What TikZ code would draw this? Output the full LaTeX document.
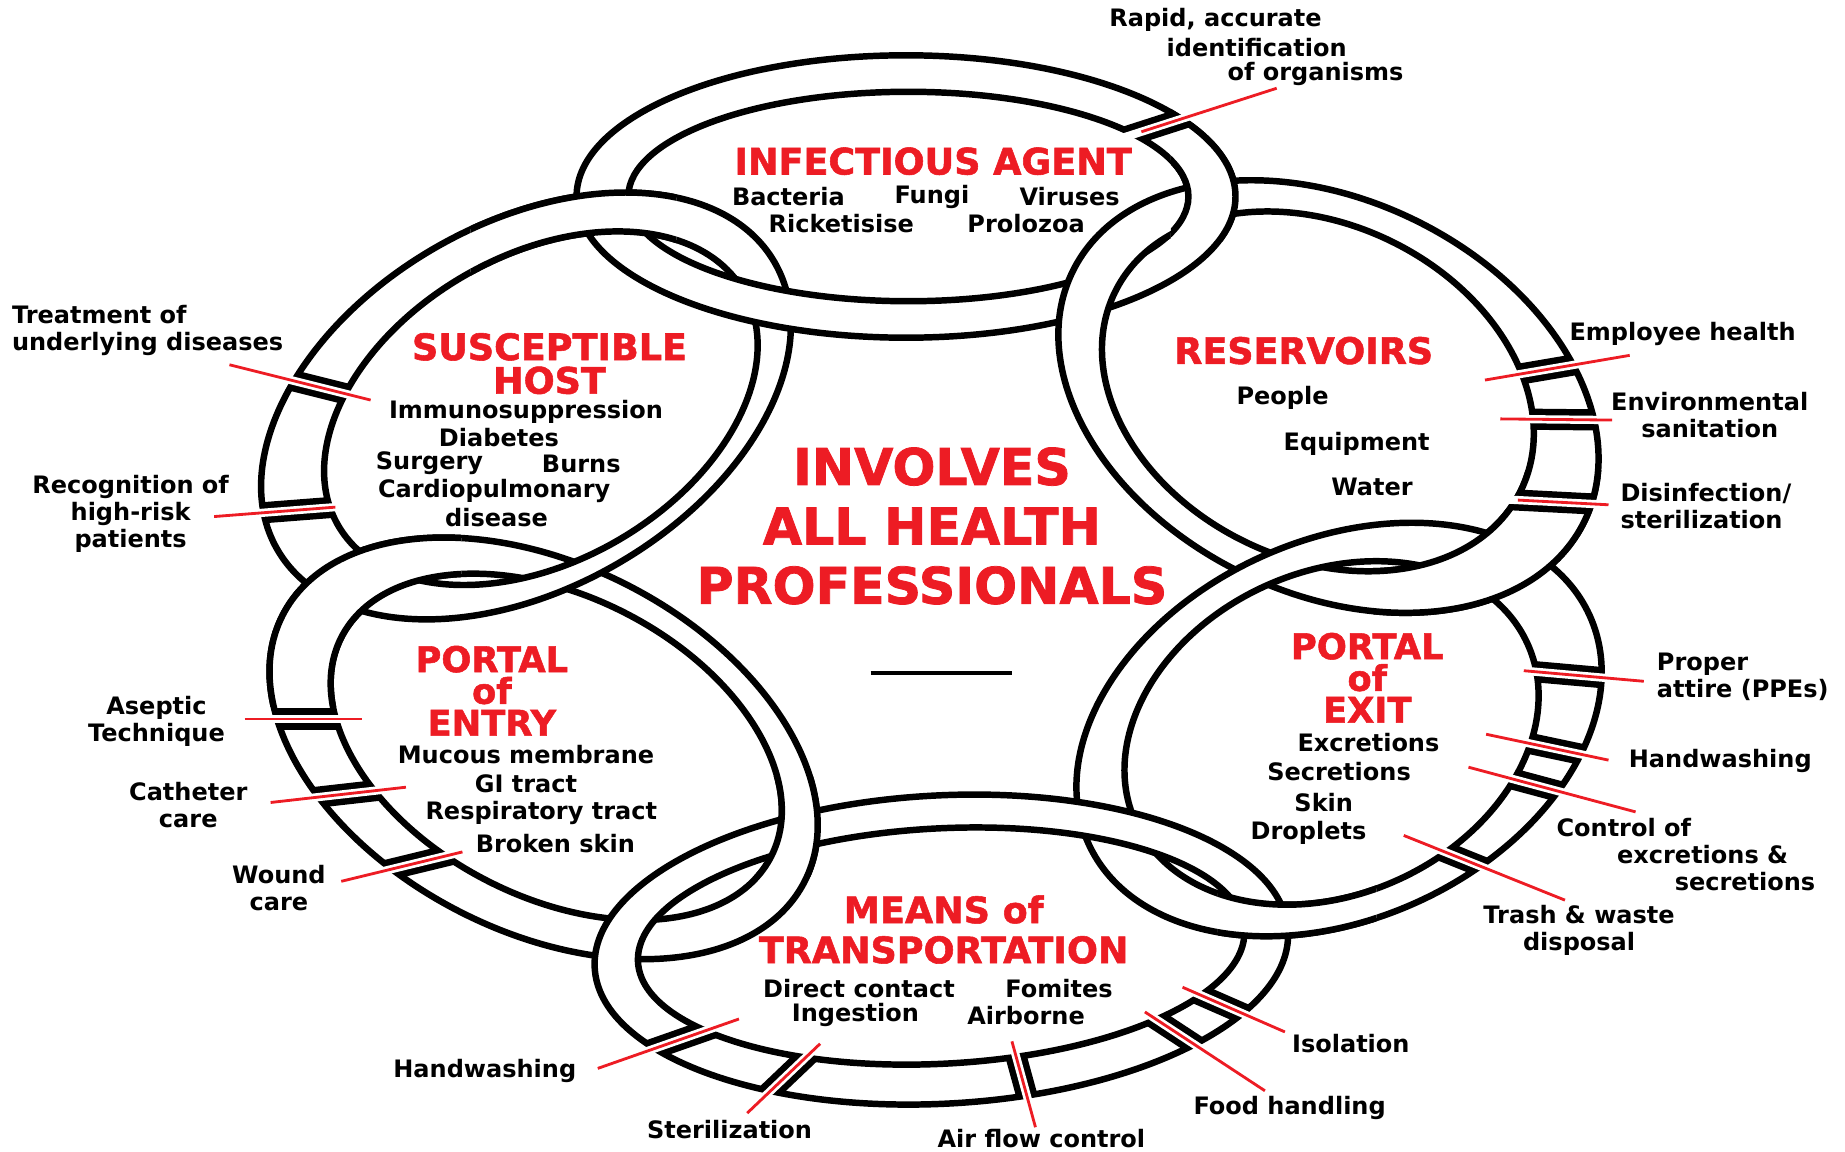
\documentclass[tikz,border=0pt]{standalone}
\usepackage{fontspec}
\setmainfont{DejaVu Sans}
\newfontfamily\headfont{DejaVu Sans}[BoldFeatures={FakeBold=1.5}]
\usetikzlibrary{positioning}
\definecolor{chainred}{RGB}{237,28,36}

% one chain link: outer ellipse, inner hole (a white band between them)
\newcommand\bandmargin{0}
\newcommand\ringband[6]{(0,0) ellipse [x radius=#1+\bandmargin, y radius=#2+\bandmargin] ({#3+#5-\bandmargin},#4) arc [start angle=360, end angle=0, x radius=#5-\bandmargin, y radius=#6-\bandmargin]}
\newcommand\bandIA{\ringband{280}{120}{2}{0}{238}{89}}
\newcommand\bandSH{\ringband{244}{155}{10}{8}{199}{130}}
\newcommand\bandRS{\ringband{242}{167}{-10}{0}{192}{142}}
\newcommand\bandPX{\ringband{234}{161}{-7}{0}{183}{137}}
\newcommand\bandMT{\ringband{295}{131}{0}{-3}{258}{100}}
\newcommand\bandEN{\ringband{249}{156}{9}{-6}{205}{128}}

% break in a link where a red line passes
\newcommand\linkcut[4]{%
  \begin{scope}[#1, even odd rule]\renewcommand\bandmargin{0}\clip #2;
    \draw[capline] (#3) -- (#4);\end{scope}
  \begin{scope}[#1, even odd rule]\renewcommand\bandmargin{3.8}\clip #2;
    \draw[gapline] (#3) -- (#4);\end{scope}}

\begin{document}
\begin{tikzpicture}[x=1pt, y=-1pt,
linkband/.style={fill=white, draw=black, line width=5.5pt, even odd rule},
capline/.style={draw=black, line width=18pt, shorten <=-30pt, shorten >=-30pt},
gapline/.style={draw=white, line width=7pt, shorten <=-30pt, shorten >=-30pt},
leader/.style={draw=chainred, line width=2.4pt},
lbl/.style={font=\bfseries\fontsize{20.4}{23}\selectfont, inner sep=0pt, align=center},
head/.style={font=\headfont\bfseries\fontsize{31}{26}\selectfont, text=chainred, inner sep=0pt, align=center},
portal/.style={head, font=\headfont\bfseries\fontsize{30}{27}\selectfont},
frameIA/.style={shift={(770,167)}},
frameSH/.style={shift={(447,345)}, rotate=30},
frameRS/.style={shift={(1129,337)}, rotate=-26},
framePX/.style={shift={(1138,620)}, rotate=24.5},
frameMT/.style={shift={(800,807)}, rotate=3},
frameEN/.style={shift={(462,636)}, rotate=-27},]

\useasboundingbox (0,0) rectangle (1568,979);

% links, clockwise from portal of entry
\filldraw[linkband, frameEN] \bandEN;
\filldraw[linkband, frameSH] \bandSH;
\filldraw[linkband, frameIA] \bandIA;
\filldraw[linkband, frameRS] \bandRS;
\filldraw[linkband, framePX] \bandPX;
\filldraw[linkband, frameMT] \bandMT;

% interlocking: earlier link on top at the outer crossing
\begin{scope}\clip (150,380) rectangle (392,600); \filldraw[linkband, frameEN] \bandEN;\end{scope}
\begin{scope}\clip (400,80) rectangle (575,260); \filldraw[linkband, frameSH] \bandSH;\end{scope}
\begin{scope}\clip (995,60) rectangle (1110,205); \filldraw[linkband, frameIA] \bandIA;\end{scope}
\begin{scope}\clip (1167,400) rectangle (1420,560); \filldraw[linkband, frameRS] \bandRS;\end{scope}
\begin{scope}\clip (1035,700) rectangle (1170,840); \filldraw[linkband, framePX] \bandPX;\end{scope}
\begin{scope}\clip (630,660) rectangle (720,745); \filldraw[linkband, frameEN] \bandEN;\end{scope}

% ends of the red lines
\coordinate (oRapid) at (1085,75);   \coordinate (iRapid) at (970,112);
\coordinate (oTreat) at (195,310);   \coordinate (iTreat) at (315,340);
\coordinate (oRecog) at (182,439);   \coordinate (iRecog) at (285,431);
\coordinate (oAsep) at (208,611);    \coordinate (iAsep) at (308,611);
\coordinate (oCath) at (230,682);    \coordinate (iCath) at (345,669);
\coordinate (oWound) at (290,749);   \coordinate (iWound) at (393,724);
\coordinate (oHandA) at (508,908);   \coordinate (iHandA) at (628,866);
\coordinate (oSteril) at (635,946);  \coordinate (iSteril) at (697,887);
\coordinate (oAir) at (880,958);     \coordinate (iAir) at (860,885);
\coordinate (oFood) at (1075,927);   \coordinate (iFood) at (973,860);
\coordinate (oIsol) at (1092,877);   \coordinate (iIsol) at (1005,839);
\coordinate (oTrash) at (1330,765);  \coordinate (iTrash) at (1193,710);
\coordinate (oCtrl) at (1390,690);   \coordinate (iCtrl) at (1248,652);
\coordinate (oHandB) at (1367,646);  \coordinate (iHandB) at (1263,624);
\coordinate (oAttire) at (1397,579); \coordinate (iAttire) at (1295,570);
\coordinate (oDisinf) at (1367,429); \coordinate (iDisinf) at (1290,425);
\coordinate (oEnvir) at (1370,357);  \coordinate (iEnvir) at (1275,356);
\coordinate (oEmploy) at (1385,302); \coordinate (iEmploy) at (1262,323);

\linkcut{frameIA}{\bandIA}{oRapid}{iRapid}
\linkcut{frameSH}{\bandSH}{oTreat}{iTreat}
\linkcut{frameSH}{\bandSH}{oRecog}{iRecog}
\linkcut{frameEN}{\bandEN}{oAsep}{iAsep}
\linkcut{frameEN}{\bandEN}{oCath}{iCath}
\linkcut{frameEN}{\bandEN}{oWound}{iWound}
\linkcut{frameMT}{\bandMT}{oHandA}{iHandA}
\linkcut{frameMT}{\bandMT}{oSteril}{iSteril}
\linkcut{frameMT}{\bandMT}{oAir}{iAir}
\linkcut{frameMT}{\bandMT}{oFood}{iFood}
\linkcut{frameMT}{\bandMT}{oIsol}{iIsol}
\linkcut{framePX}{\bandPX}{oTrash}{iTrash}
\linkcut{framePX}{\bandPX}{oCtrl}{iCtrl}
\linkcut{framePX}{\bandPX}{oHandB}{iHandB}
\linkcut{framePX}{\bandPX}{oAttire}{iAttire}
\linkcut{frameRS}{\bandRS}{oDisinf}{iDisinf}
\linkcut{frameRS}{\bandRS}{oEnvir}{iEnvir}
\linkcut{frameRS}{\bandRS}{oEmploy}{iEmploy}

\draw[leader] (oRapid) -- (iRapid);
\draw[leader] (oTreat) -- (iTreat);
\draw[leader] (oRecog) -- (iRecog);
\draw[leader] (oAsep) -- (iAsep);
\draw[leader] (oCath) -- (iCath);
\draw[leader] (oWound) -- (iWound);
\draw[leader] (oHandA) -- (iHandA);
\draw[leader] (oSteril) -- (iSteril);
\draw[leader] (oAir) -- (iAir);
\draw[leader] (oFood) -- (iFood);
\draw[leader] (oIsol) -- (iIsol);
\draw[leader] (oTrash) -- (iTrash);
\draw[leader] (oCtrl) -- (iCtrl);
\draw[leader] (oHandB) -- (iHandB);
\draw[leader] (oAttire) -- (iAttire);
\draw[leader] (oDisinf) -- (iDisinf);
\draw[leader] (oEnvir) -- (iEnvir);
\draw[leader] (oEmploy) -- (iEmploy);

% labels round the chain
\node[lbl] (rapidA) at (1033,17) {Rapid, accurate};
\node[lbl] (rapidB) at (1068,40) {identification};
\node[lbl] (rapidC) at (1118,63) {of organisms};
\node[lbl, align=left, anchor=west] (treat) at (10,281) {Treatment of\\underlying diseases};
\node[lbl] (recog) at (111,437) {Recognition of\\high-risk\\patients};
\node[lbl] (asep) at (133,613) {Aseptic\\Technique};
\node[lbl] (cath) at (160,684) {Catheter\\care};
\node[lbl] (wound) at (237,755) {Wound\\care};
\node[lbl] (handA) at (412,910) {Handwashing};
\node[lbl] (steril) at (620,960) {Sterilization};
\node[lbl] (airflow) at (885,968) {Air flow control};
\node[lbl] (food) at (1096,942) {Food handling};
\node[lbl] (isol) at (1148,887) {Isolation};
\node[lbl] (trash) at (1342,791) {Trash \& waste\\disposal};
\node[lbl] (ctrlA) at (1380,703) {Control of};
\node[lbl] (ctrlB) at (1447,726) {excretions \&};
\node[lbl] (ctrlC) at (1483,749) {secretions};
\node[lbl] (handB) at (1462,647) {Handwashing};
\node[lbl, align=left, anchor=west] (attire) at (1408,575) {Proper\\attire (PPEs)};
\node[lbl, align=left, anchor=west] (disinf) at (1377,430) {Disinfection/\\sterilization};
\node[lbl] (envir) at (1453,353) {Environmental\\sanitation};
\node[lbl] (employ) at (1430,284) {Employee health};

% inside the links
\node[head] (iaHead) at (793,137) {INFECTIOUS AGENT};
\node[lbl] (bact) at (670,167) {Bacteria};
\node[lbl] (fungi) at (792,167) {Fungi};
\node[lbl] (virus) at (909,167) {Viruses};
\node[lbl] (ricket) at (715,190) {Ricketisise};
\node[lbl] (prolo) at (872,190) {Prolozoa};

\node[head, font=\headfont\bfseries\fontsize{31}{28.5}\selectfont] (shHead) at (467,309) {SUSCEPTIBLE\\HOST};
\node[lbl] (immuno) at (447,350) {Immunosuppression};
\node[lbl] (diab) at (424,372) {Diabetes};
\node[lbl] (surg) at (365,394) {Surgery};
\node[lbl] (burns) at (494,394) {Burns};
\node[lbl] (cardio) at (420,417) {Cardiopulmonary};
\node[lbl] (disease) at (422,440) {disease};

\node[head] (rsHead) at (1108,298) {RESERVOIRS};
\node[lbl] (people) at (1090,338) {People};
\node[lbl] (equip) at (1153,377) {Equipment};
\node[lbl] (water) at (1166,414) {Water};

\node[head, font=\headfont\bfseries\fontsize{43}{50.5}\selectfont] (involve) at (792,447) {INVOLVES\\ALL HEALTH\\PROFESSIONALS};
\node[inner sep=0pt] (dash) at (800,572) {\rule{120pt}{3pt}};

\node[portal] (enHead) at (418,587) {PORTAL\\of\\ENTRY};
\node[lbl] (mucous) at (447,641) {Mucous membrane};
\node[lbl] (gi) at (447,666) {GI tract};
\node[lbl] (resp) at (460,691) {Respiratory tract};
\node[lbl] (broken) at (472,717) {Broken skin};

\node[portal] (pxHead) at (1162,576) {PORTAL\\of\\EXIT};
\node[lbl] (excr) at (1163,631) {Excretions};
\node[lbl] (secr) at (1138,656) {Secretions};
\node[lbl] (skin) at (1125,682) {Skin};
\node[lbl] (drop) at (1112,708) {Droplets};

\node[head, font=\headfont\bfseries\fontsize{31}{34}\selectfont] (mtHead) at (802,790) {MEANS of\\TRANSPORTATION};
\node[lbl] (direct) at (730,840) {Direct contact};
\node[lbl] (fomites) at (900,840) {Fomites};
\node[lbl] (ingest) at (727,863) {Ingestion};
\node[lbl] (airborne) at (872,863) {Airborne};

\end{tikzpicture}
\end{document}
